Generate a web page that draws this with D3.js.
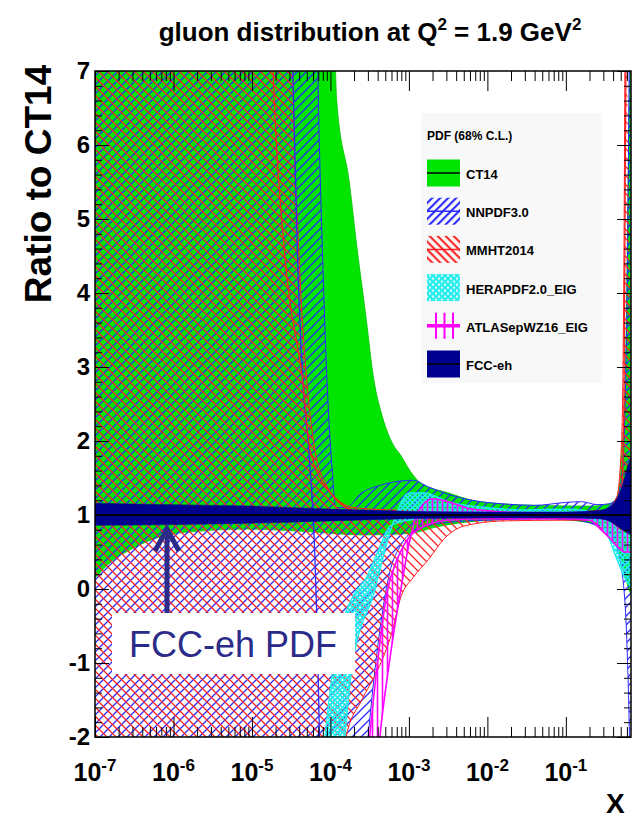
<!DOCTYPE html>
<html>
<head>
<meta charset="utf-8">
<script src="https://cdn.jsdelivr.net/npm/d3@7"></script>
<style>
body { margin: 0; background: #fff; }
text { font-family: "Liberation Sans", Arial, Helvetica, sans-serif; }
</style>
</head>
<body>
<script>
// band edges: [log10(x), ratio to CT14]
var ct14Hi = [[-7, 10], [-4.0, 10], [-3.95, 7.6], [-3.92, 6.6], [-3.76, 5.5], [-3.66, 4.6], [-3.55, 3.7],
  [-3.45, 2.85], [-3.33, 2.3], [-3.2, 1.95], [-3.1, 1.8], [-3.0, 1.62], [-2.9, 1.48], [-2.85, 1.43],
  [-2.5, 1.3], [-2.2, 1.2], [-1.8, 1.15], [-1.37, 1.13], [-0.7, 1.12], [-0.45, 1.15], [-0.35, 1.24],
  [-0.29, 1.8], [-0.24, 3.0], [-0.2, 6.0], [-0.15, 9]];
var ct14Lo = [[-7, 0.15], [-6.77, 0.39], [-6.55, 0.53], [-6.34, 0.64], [-6.08, 0.73], [-5.7, 0.78],
  [-5.06, 0.81], [-4.22, 0.77], [-3.59, 0.73], [-3.0, 0.75], [-2.64, 0.84], [-2.22, 0.91], [-1.37, 0.95],
  [-0.95, 0.93], [-0.53, 0.84], [-0.35, 0.57], [-0.25, 0.2], [-0.18, -0.05], [-0.15, -0.1]];

var nnHi = [[-7, 10], [-4.2, 10], [-4.16, 7], [-4.1, 4.5], [-4.03, 2.5], [-3.98, 1.65], [-3.93, 1.1],
  [-3.8, 1.1], [-3.6, 1.3], [-3.37, 1.4], [-3.1, 1.46], [-2.95, 1.47], [-2.75, 1.38], [-2.5, 1.28],
  [-2.2, 1.2], [-1.8, 1.15], [-1.4, 1.13], [-1.0, 1.17], [-0.8, 1.18], [-0.6, 1.14], [-0.45, 1.15],
  [-0.35, 1.22], [-0.28, 1.6], [-0.22, 4], [-0.18, 9]];
var nnLo = [[-7, -3], [-3.6, -3], [-3.52, -2], [-3.4, -0.8], [-3.25, 0.2], [-3.1, 0.6], [-2.9, 0.8],
  [-2.5, 0.9], [-2.0, 0.93], [-1.2, 0.95], [-0.8, 0.92], [-0.6, 0.85], [-0.45, 0.75], [-0.35, 0.55],
  [-0.28, 0.2], [-0.22, -0.8], [-0.19, -2.0], [-0.17, -3.5]];
var nnMid = [[-4.5, 8], [-4.48, 7], [-4.42, 4.5], [-4.35, 2.8], [-4.27, 1.8], [-4.2, 0.5], [-4.17, -0.5],
  [-4.14, -2], [-4.13, -2.5]];

var mmHi = [[-7, 10], [-4.52, 10], [-4.48, 7], [-4.4, 4.5], [-4.3, 2.8], [-4.2, 1.9], [-4.05, 1.4],
  [-3.9, 1.2], [-3.7, 1.1], [-3.3, 1.07], [-2.5, 1.05], [-1.5, 1.04], [-0.8, 1.05], [-0.5, 1.06],
  [-0.35, 1.25], [-0.29, 2.0], [-0.26, 4.5], [-0.24, 9]];
var mmLo = [[-7, -3], [-3.9, -3], [-3.8, -2.0], [-3.6, -1.5], [-3.4, -1.1], [-3.22, -0.6], [-3.1, -0.1],
  [-2.95, 0.15], [-2.75, 0.4], [-2.55, 0.68], [-2.3, 0.85], [-1.8, 0.92], [-1.0, 0.93], [-0.7, 0.93],
  [-0.5, 0.75], [-0.4, 0.62], [-0.3, 0.55], [-0.15, 0.5]];
var mmMid = [[-4.76, 8], [-4.73, 7], [-4.58, 4.5], [-4.35, 2.78], [-4.26, 1.88], [-4.0, 1.3],
  [-3.79, 1.1], [-3.5, 1.03], [-3.0, 1.0], [-0.5, 0.98], [-0.35, 1.0], [-0.29, 1.3], [-0.26, 2.5],
  [-0.23, 8]];

var heHi = [[-3.9, -3], [-3.815, -2.0], [-3.73, -1.1], [-3.43, 0.0], [-3.31, 0.5], [-3.15, 1.05],
  [-3.0, 1.3], [-2.8, 1.3], [-2.5, 1.18], [-2.0, 1.1], [-1.5, 1.07], [-1.0, 1.08], [-0.75, 1.06],
  [-0.6, 1.0], [-0.45, 0.92], [-0.35, 0.82], [-0.25, 0.75], [-0.15, 0.7]];
var heLo = [[-4.15, -3], [-4.07, -2.0], [-3.97, -1.1], [-3.69, -0.05], [-3.56, 0.12], [-3.4, 0.5],
  [-3.24, 0.85], [-3.0, 0.93], [-2.5, 0.97], [-2.0, 0.97], [-1.0, 0.98], [-0.7, 0.93], [-0.6, 0.9],
  [-0.48, 0.75], [-0.35, 0.4], [-0.25, 0.15], [-0.15, 0.0]];

var atHi = [[-3.45, -3], [-3.37, -2.0], [-3.25, -1.0], [-3.11, -0.05], [-3.0, 0.6], [-2.9, 1.0],
  [-2.7, 1.22], [-2.5, 1.18], [-2.2, 1.08], [-1.5, 1.03], [-1.0, 1.03], [-0.7, 1.0], [-0.5, 0.95],
  [-0.35, 0.88], [-0.25, 0.85], [-0.15, 0.85]];
var atLo = [[-3.58, -3], [-3.5, -2.0], [-3.4, -1.0], [-3.28, -0.05], [-3.15, 0.4], [-3.05, 0.62],
  [-2.8, 0.85], [-2.5, 0.93], [-2.0, 0.95], [-1.0, 0.95], [-0.7, 0.93], [-0.55, 0.8], [-0.45, 0.7],
  [-0.35, 0.58], [-0.25, 0.5], [-0.15, 0.5]];

var fcHi = [[-7, 1.16], [-6, 1.14], [-5, 1.12], [-4, 1.08], [-3, 1.05], [-2, 1.04], [-1, 1.04],
  [-0.6, 1.06], [-0.45, 1.1], [-0.35, 1.22], [-0.28, 1.4], [-0.2, 1.7], [-0.15, 1.8]];
var fcLo = [[-7, 0.86], [-6, 0.87], [-5, 0.89], [-4, 0.92], [-3, 0.95], [-2, 0.96], [-1, 0.96],
  [-0.6, 0.95], [-0.45, 0.92], [-0.35, 0.85], [-0.25, 0.78], [-0.15, 0.72]];
var fcMid = [[-7, 1], [-0.15, 1]];

var legendNames = ["CT14", "NNPDF3.0", "MMHT2014", "HERAPDF2.0_EIG", "ATLASepWZ16_EIG", "FCC-eh"];
var yTicks = [-2, -1, 0, 1, 2, 3, 4, 5, 6, 7];
var xDecades = [-7, -6, -5, -4, -3, -2, -1];

var cGreen = "#00e400", cBlue = "#2828ff", cRed = "#ff2020", cCyan = "#20eeee",
    cMagenta = "#ff00ff", cNavy = "#00008f", cNote = "#2b2b8a";

var svg = d3.select("body").append("svg")
    .attr("width", 634)
    .attr("height", 822);

var plot = {left: 95, right: 631, top: 71, bottom: 737};

var x = d3.scaleLog().domain([1e-7, Math.pow(10, -0.17)]).range([plot.left, plot.right]);
var y = d3.scaleLinear().domain([-2, 7]).range([plot.bottom, plot.top]);

var defs = svg.append("defs");
defs.append("clipPath").attr("id", "clip")
    .append("rect")
    .attr("x", plot.left).attr("y", plot.top)
    .attr("width", plot.right - plot.left).attr("height", plot.bottom - plot.top);

function hatch(id, color, w, h, path, sw) {
    var p = defs.append("pattern")
        .attr("id", id)
        .attr("patternUnits", "userSpaceOnUse")
        .attr("width", w).attr("height", h);
    p.append("path").attr("d", path)
        .attr("stroke", color).attr("stroke-width", sw).attr("fill", "none");
}
hatch("hNN", cBlue, 9, 9, "M-1,1L1,-1M0,9L9,0M8,10L10,8", 1.25);
hatch("hMM", cRed, 9, 9, "M-1,8L1,10M0,0L9,9M8,-1L10,1", 1.25);
hatch("hHE", cCyan, 5, 5, "M0,0L5,5M0,5L5,0", 1.7);
hatch("hAT", cMagenta, 5, 10, "M2.5,0L2.5,10", 1.6);
hatch("lNN", cBlue, 8, 8, "M-1,1L1,-1M0,8L8,0M7,9L9,7", 2);
hatch("lMM", cRed, 8, 8, "M-1,7L1,9M0,0L8,8M7,-1L9,1", 2);
hatch("lHE", cCyan, 6, 6, "M0,0L6,6M0,6L6,0", 2.2);

var line = d3.line()
    .x(function(d) { return x(Math.pow(10, d[0])); })
    .y(function(d) { return y(d[1]); })
    .curve(d3.curveMonotoneX);

function bandPath(hi, lo) {
    var top = line(hi);
    var bot = line(lo.slice().reverse());
    return top + bot.replace(/^M/, "L") + "Z";
}

var plotG = svg.append("g").attr("clip-path", "url(#clip)");

function drawBand(hi, lo, fill, edge, ew) {
    plotG.append("path").attr("d", bandPath(hi, lo)).attr("fill", fill);
    [hi, lo].forEach(function(b) {
        plotG.append("path").attr("d", line(b))
            .attr("fill", "none").attr("stroke", edge).attr("stroke-width", ew);
    });
}

drawBand(ct14Hi, ct14Lo, cGreen, "#00c000", 0.8);
drawBand(nnHi, nnLo, "url(#hNN)", cBlue, 1);
drawBand(mmHi, mmLo, "url(#hMM)", cRed, 1);
plotG.append("path").attr("d", line(nnMid)).attr("fill", "none").attr("stroke", cBlue).attr("stroke-width", 1.3);
plotG.append("path").attr("d", line(mmMid)).attr("fill", "none").attr("stroke", cRed).attr("stroke-width", 1.3);
drawBand(heHi, heLo, "url(#hHE)", cCyan, 1.2);
drawBand(atHi, atLo, "url(#hAT)", cMagenta, 1.6);
drawBand(fcHi, fcLo, cNavy, cNavy, 0.5);
plotG.append("path").attr("d", line(fcMid)).attr("fill", "none").attr("stroke", "#000").attr("stroke-width", 2);

// axes, ROOT style ticks pointing inward
var xMinor = [];
xDecades.forEach(function(e) {
    for (var k = 2; k <= 9; k++) {
        var v = k * Math.pow(10, e);
        if (v <= x.domain()[1]) xMinor.push(v);
    }
});
var xMajor = xDecades.map(function(e) { return Math.pow(10, e); });
var yMinor = d3.range(-20, 71, 2).map(function(v) { return v / 10; })
    .filter(function(v) { return v % 1 !== 0; });

function axisStyle(g) {
    g.select(".domain").remove();
    g.selectAll("line").attr("stroke", "#000").attr("stroke-width", 1);
    g.selectAll("text").remove();
}

svg.append("g").attr("transform", "translate(0," + plot.bottom + ")")
    .call(d3.axisBottom(x).tickValues(xMajor).tickSize(-20)).call(axisStyle);
svg.append("g").attr("transform", "translate(0," + plot.bottom + ")")
    .call(d3.axisBottom(x).tickValues(xMinor).tickSize(-10)).call(axisStyle);
svg.append("g").attr("transform", "translate(0," + plot.top + ")")
    .call(d3.axisTop(x).tickValues(xMajor).tickSize(-20)).call(axisStyle);
svg.append("g").attr("transform", "translate(0," + plot.top + ")")
    .call(d3.axisTop(x).tickValues(xMinor).tickSize(-10)).call(axisStyle);
svg.append("g").attr("transform", "translate(" + plot.left + ",0)")
    .call(d3.axisLeft(y).tickValues(yTicks).tickSize(-14)).call(axisStyle);
svg.append("g").attr("transform", "translate(" + plot.left + ",0)")
    .call(d3.axisLeft(y).tickValues(yMinor).tickSize(-7)).call(axisStyle);
svg.append("g").attr("transform", "translate(" + plot.right + ",0)")
    .call(d3.axisRight(y).tickValues(yTicks).tickSize(-14)).call(axisStyle);
svg.append("g").attr("transform", "translate(" + plot.right + ",0)")
    .call(d3.axisRight(y).tickValues(yMinor).tickSize(-7)).call(axisStyle);

svg.append("rect")
    .attr("x", plot.left).attr("y", plot.top)
    .attr("width", plot.right - plot.left).attr("height", plot.bottom - plot.top)
    .attr("fill", "none").attr("stroke", "#000").attr("stroke-width", 1.5);

// tick labels
svg.append("g").selectAll("text")
    .data(yTicks)
    .enter().append("text")
    .attr("x", 90)
    .attr("y", function(d) { return y(d) + 8; })
    .attr("text-anchor", "end")
    .attr("font-size", 24).attr("font-weight", "bold")
    .text(function(d) { return d; });

var xl = svg.append("g").selectAll("text")
    .data(xDecades)
    .enter().append("text")
    .attr("x", function(d) { return x(Math.pow(10, d)); })
    .attr("y", 781)
    .attr("text-anchor", "middle")
    .attr("font-size", 25).attr("font-weight", "bold");
xl.append("tspan").text("10");
xl.append("tspan").attr("font-size", 17).attr("dy", -10).text(function(d) { return d; });

// titles
var title = svg.append("text")
    .attr("x", 370).attr("y", 41)
    .attr("text-anchor", "middle")
    .attr("font-size", 26).attr("font-weight", "bold");
title.append("tspan").text("gluon distribution at Q");
title.append("tspan").attr("font-size", 17).attr("dy", -11).text("2");
title.append("tspan").attr("dy", 11).text(" = 1.9 GeV");
title.append("tspan").attr("font-size", 17).attr("dy", -11).text("2");

svg.append("text")
    .attr("transform", "translate(51,184) rotate(-90)")
    .attr("text-anchor", "middle")
    .attr("font-size", 37).attr("font-weight", "bold")
    .text("Ratio to CT14");

svg.append("text")
    .attr("x", 606).attr("y", 813)
    .attr("font-size", 28).attr("font-weight", "bold")
    .text("X");

// legend
var leg = svg.append("g");
leg.append("rect")
    .attr("x", 421).attr("y", 113).attr("width", 181).attr("height", 270)
    .attr("fill", "#f8f8f8");
leg.append("text")
    .attr("x", 427).attr("y", 140)
    .attr("font-size", 12).attr("font-weight", "bold")
    .text("PDF (68% C.L.)");

var legFill = [cGreen, "url(#lNN)", "url(#lMM)", "url(#lHE)", "#fff0", cNavy];
var legLine = ["#000", cBlue, cRed, null, cMagenta, "#000"];
var rows = leg.selectAll("g.row")
    .data(legendNames)
    .enter().append("g")
    .attr("class", "row")
    .attr("transform", function(d, i) { return "translate(427," + (173 + i * 38.2) + ")"; });
rows.append("rect")
    .attr("x", 0).attr("y", -13.5).attr("width", 33).attr("height", 27)
    .attr("fill", function(d, i) { return legFill[i]; });
rows.filter(function(d, i) { return i === 4; })
    .selectAll("line.v")
    .data([9, 17.5, 26])
    .enter().append("line")
    .attr("x1", function(d) { return d; }).attr("x2", function(d) { return d; })
    .attr("y1", -13).attr("y2", 13)
    .attr("stroke", cMagenta).attr("stroke-width", 2);
rows.filter(function(d, i) { return legLine[i]; })
    .append("line")
    .attr("x1", 0).attr("x2", 33).attr("y1", 0).attr("y2", 0)
    .attr("stroke", function(d) { return legLine[legendNames.indexOf(d)]; })
    .attr("stroke-width", function(d) { return d === "ATLASepWZ16_EIG" ? 3.5 : 1.5; });
rows.append("text")
    .attr("x", 39).attr("y", 6)
    .attr("font-size", 13).attr("font-weight", "bold")
    .text(function(d) { return d; });

// FCC-eh annotation
svg.append("rect")
    .attr("x", 112).attr("y", 613).attr("width", 243).attr("height", 61)
    .attr("fill", "#fff");
svg.append("text")
    .attr("x", 233).attr("y", 657)
    .attr("text-anchor", "middle")
    .attr("font-size", 36)
    .attr("fill", cNote)
    .text("FCC-eh PDF");
svg.append("line")
    .attr("x1", 167).attr("x2", 167).attr("y1", 613).attr("y2", 531)
    .attr("stroke", cNote).attr("stroke-width", 5);
svg.append("path")
    .attr("d", "M155,551L167,529L179,551")
    .attr("fill", "none").attr("stroke", cNote).attr("stroke-width", 5);
</script>
</body>
</html>
